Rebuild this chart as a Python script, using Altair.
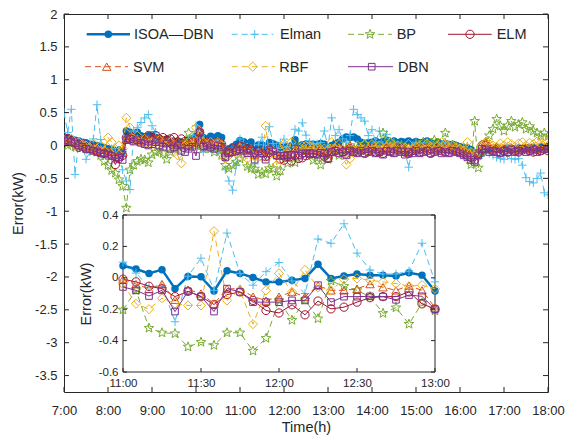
import altair as alt
import numpy as np
import pandas as pd

FONT = "Liberation Sans"
INK = "#262626"

# ---------------- data ----------------
# time stamps in minutes after midnight, every 5 min from 7:00 to 18:00
times = list(range(420, 1081, 5))

isoa_dbn = [
    0.10, 0.12, 0.10, 0.08, 0.07, 0.05, 0.04, 0.02, 0.01, 0.00, -0.02, -0.03,
    -0.05, -0.06, -0.08, -0.07, -0.09, 0.22, 0.20, 0.18, 0.20, 0.15, 0.13, 0.15,
    0.16, 0.12, 0.10, 0.08, 0.10, 0.06, 0.05, 0.07, 0.05, 0.04, 0.08, 0.10,
    0.15, 0.32, 0.12, 0.10, 0.14, 0.12, 0.15, 0.12, -0.08, -0.05, -0.02, 0.02,
    0.077, 0.056, 0.028, 0.052, -0.069, 0.009, 0.006, -0.084, 0.045, 0.028, 0.002, -0.026,
    -0.026, -0.015, -0.004, 0.086, -0.004, 0.011, 0.024, 0.017, 0.017, 0.011, 0.032, 0.017,
    -0.084, 0.00, 0.03, 0.05, 0.10, 0.13, 0.12, 0.13, 0.10, 0.05, 0.03, 0.04,
    0.05, 0.07, 0.04, 0.06, 0.08, 0.05, 0.07, 0.04, 0.06, 0.05, 0.07, 0.04,
    0.06, 0.04, 0.05, 0.07, 0.04, 0.03, 0.05, 0.02, 0.03, 0.01, 0.02, 0.00,
    -0.02, -0.03, -0.04, -0.06, -0.12, -0.15, -0.12, -0.05, -0.04, -0.05, -0.04, -0.06,
    -0.05, -0.04, -0.06, -0.05, -0.04, -0.05, -0.03, -0.04, -0.03, -0.05, -0.02, -0.03,
    -0.01,
]

elman = [
    0.50, 0.20, 0.55, -0.44, 0.05, 0.00, -0.21, -0.10, 0.10, 0.62, 0.09, -0.05,
    -0.10, -0.05, -0.12, -0.20, -0.37, -0.54, -0.67, 0.22, 0.27, 0.35, 0.42, 0.47,
    0.30, 0.20, 0.10, 0.05, 0.00, 0.10, 0.05, -0.10, 0.00, 0.05, -0.05, 0.10,
    0.30, 0.05, -0.10, 0.00, -0.05, 0.00, -0.08, -0.10, -0.37, -0.54, -0.68, -0.30,
    0.10, 0.03, -0.06, -0.05, -0.28, 0.01, 0.125, -0.08, 0.285, 0.028, -0.047, 0.039,
    0.097, -0.02, -0.10, 0.247, 0.22, 0.344, 0.157, 0.05, 0.024, 0.024, 0.043, 0.22,
    -0.026, 0.42, 0.15, 0.24, 0.10, 0.05, 0.15, 0.55, 0.47, 0.42, 0.37, 0.15,
    0.24, 0.05, 0.22, 0.00, 0.17, 0.00, 0.05, -0.05, 0.00, -0.10, -0.33, -0.05,
    0.05, 0.00, -0.05, 0.05, 0.00, -0.02, -0.10, 0.00, 0.05, 0.02, -0.05, 0.00,
    -0.05, -0.02, -0.08, -0.10, -0.15, -0.20, -0.10, -0.05, -0.12, -0.15, -0.18, -0.20,
    -0.21, -0.15, -0.20, -0.21, -0.20, -0.30, -0.49, -0.55, -0.57, -0.50, -0.42, -0.72,
    -0.75,
]

bp = [
    0.05, 0.00, 0.03, -0.02, 0.00, -0.03, -0.05, -0.05, -0.08, -0.10, -0.15, -0.24,
    -0.30, -0.38, -0.42, -0.52, -0.62, -0.95, -0.37, -0.30, -0.24, -0.21, -0.22, -0.26,
    -0.14, -0.10, -0.09, -0.12, -0.21, -0.10, -0.05, -0.02, 0.00, 0.05, 0.19, 0.05,
    0.00, 0.10, -0.05, 0.00, -0.05, -0.10, -0.05, -0.15, -0.30, -0.35, -0.30, -0.25,
    -0.204, -0.08, -0.32, -0.35, -0.355, -0.44, -0.41, -0.43, -0.35, -0.35, -0.466, -0.385,
    -0.144, -0.27, -0.14, -0.26, -0.02, -0.054, -0.08, -0.12, -0.226, -0.19, -0.295, -0.16,
    -0.21, -0.10, -0.05, -0.15, -0.08, -0.05, 0.00, -0.10, -0.05, -0.08, 0.02, -0.05,
    -0.05, 0.00, -0.10, 0.19, 0.00, 0.05, -0.02, -0.05, 0.00, -0.08, -0.12, -0.05,
    0.00, -0.05, 0.05, 0.00, -0.03, 0.08, 0.00, -0.05, 0.19, -0.05, 0.00, -0.03,
    -0.05, -0.08, -0.10, -0.29, 0.37, -0.34, -0.10, 0.05, 0.15, 0.25, 0.40, 0.30,
    0.22, 0.30, 0.37, 0.28, 0.32, 0.35, 0.25, 0.29, 0.22, 0.19, 0.15, 0.19,
    0.14,
]

elm = [
    0.12, 0.10, 0.08, 0.05, -0.03, 0.02, -0.05, -0.02, -0.05, -0.08, -0.10, -0.12,
    -0.10, -0.15, -0.29, -0.20, -0.15, 0.12, 0.15, 0.10, 0.12, 0.08, 0.10, 0.15,
    0.12, 0.15, 0.10, 0.12, 0.08, 0.10, 0.12, 0.05, 0.10, 0.06, 0.00, 0.05,
    0.05, 0.20, 0.00, 0.05, 0.02, 0.00, 0.05, 0.02, -0.15, -0.10, -0.05, -0.08,
    -0.009, -0.026, -0.054, -0.069, -0.12, -0.086, -0.12, -0.17, -0.107, -0.09, -0.144, -0.208,
    -0.224, -0.172, -0.236, -0.148, -0.198, -0.187, -0.155, -0.127, -0.12, -0.12, -0.09, -0.166,
    -0.198, -0.10, -0.08, -0.05, -0.10, -0.12, -0.05, -0.08, -0.10, -0.06, -0.12, -0.08,
    -0.05, -0.10, -0.08, -0.12, -0.05, -0.08, -0.10, -0.06, -0.04, -0.10, -0.12, -0.08,
    -0.06, -0.10, -0.05, -0.08, -0.12, -0.06, -0.04, -0.08, -0.05, -0.10, -0.06, -0.08,
    -0.10, -0.12, -0.15, -0.18, -0.22, -0.12, 0.00, 0.00, -0.05, -0.08, -0.05, -0.10,
    -0.08, -0.10, -0.06, -0.08, -0.10, -0.07, -0.05, -0.08, -0.10, -0.06, -0.08, -0.05,
    -0.08,
]

svm = [
    0.10, 0.08, 0.06, 0.05, 0.00, 0.02, -0.02, -0.05, -0.05, -0.08, -0.06, -0.10,
    -0.08, -0.12, -0.15, -0.12, -0.10, 0.10, 0.12, 0.08, 0.10, 0.06, 0.08, 0.10,
    0.08, 0.10, 0.06, 0.08, 0.05, 0.08, 0.04, 0.06, 0.02, 0.05, 0.03, 0.06,
    0.08, 0.25, 0.05, 0.06, 0.03, 0.05, 0.02, 0.04, -0.10, -0.08, -0.04, -0.06,
    -0.01, -0.04, -0.07, -0.04, -0.14, -0.075, -0.10, -0.165, -0.07, -0.07, -0.12, -0.145,
    -0.12, -0.09, -0.12, -0.05, -0.08, -0.08, -0.07, -0.04, -0.06, -0.08, -0.05, -0.08,
    -0.19, -0.05, -0.04, -0.02, -0.05, -0.06, 0.00, -0.04, -0.06, -0.02, -0.05, -0.03,
    -0.04, -0.02, -0.05, -0.06, -0.02, -0.04, -0.05, -0.03, -0.06, -0.04, -0.02, -0.05,
    -0.03, -0.06, -0.04, -0.02, -0.05, -0.07, -0.03, -0.05, -0.04, -0.06, -0.03, -0.05,
    -0.06, -0.08, -0.10, -0.12, -0.16, -0.10, 0.02, 0.04, 0.00, -0.04, -0.02, -0.05,
    -0.04, -0.06, -0.03, -0.05, -0.06, -0.04, -0.05, -0.03, -0.06, -0.04, -0.05, -0.03,
    -0.04,
]

rbf = [
    0.08, 0.05, 0.10, 0.00, 0.05, 0.02, 0.00, -0.03, 0.03, -0.05, 0.00, -0.08,
    0.12, 0.05, -0.05, 0.00, -0.05, 0.42, 0.27, 0.10, 0.15, 0.05, 0.10, 0.02,
    0.05, 0.00, 0.08, 0.02, -0.05, 0.05, -0.10, -0.15, -0.27, 0.00, 0.05, 0.00,
    0.27, 0.15, 0.05, 0.00, 0.05, -0.02, 0.05, 0.00, -0.20, -0.15, -0.10, -0.12,
    -0.04, -0.165, -0.20, -0.13, -0.165, -0.176, -0.176, 0.297, -0.144, -0.08, -0.295, -0.08,
    0.028, -0.09, 0.05, -0.062, -0.08, -0.009, -0.004, -0.015, -0.026, -0.037, -0.054, -0.047,
    -0.07, 0.05, -0.05, 0.02, -0.15, -0.29, -0.20, -0.08, 0.00, -0.05, 0.02, -0.10,
    0.02, -0.05, 0.00, -0.08, -0.02, 0.05, -0.05, 0.00, -0.10, -0.03, 0.02, -0.05,
    -0.02, 0.00, -0.05, 0.03, -0.02, -0.06, 0.00, 0.05, 0.02, -0.04, 0.00, -0.03,
    -0.05, -0.08, 0.05, -0.10, -0.15, -0.08, 0.00, 0.05, 0.02, 0.00, -0.02, 0.03,
    0.00, 0.05, 0.02, -0.02, 0.03, 0.05, 0.00, 0.04, 0.02, 0.06, 0.03, 0.08,
    0.06,
]

dbn = [
    0.08, 0.06, 0.05, 0.03, 0.00, -0.02, -0.05, -0.06, -0.08, -0.10, -0.12, -0.12,
    -0.14, -0.16, -0.20, -0.18, -0.22, 0.08, 0.10, 0.06, 0.08, 0.04, 0.02, 0.00,
    0.02, 0.05, 0.00, -0.02, 0.03, -0.05, -0.03, 0.00, -0.08, -0.10, -0.05, -0.02,
    -0.16, 0.20, -0.02, 0.00, -0.03, -0.05, 0.00, -0.02, -0.18, -0.12, -0.10, -0.08,
    -0.058, -0.08, -0.116, -0.08, -0.215, -0.086, -0.118, -0.215, -0.069, -0.09, -0.155, -0.155,
    -0.155, -0.144, -0.144, -0.047, -0.155, -0.12, -0.12, -0.118, -0.12, -0.14, -0.11, -0.118,
    -0.20, -0.10, -0.08, -0.12, -0.10, -0.15, -0.08, -0.10, -0.12, -0.08, -0.12, -0.10,
    -0.08, -0.12, -0.10, -0.14, -0.08, -0.10, -0.12, -0.08, -0.10, -0.14, -0.10, -0.12,
    -0.08, -0.12, -0.10, -0.08, -0.12, -0.10, -0.08, -0.12, -0.10, -0.12, -0.08, -0.10,
    -0.12, -0.15, -0.18, -0.22, -0.25, -0.15, -0.05, -0.06, -0.10, -0.08, -0.10, -0.12,
    -0.08, -0.10, -0.06, -0.10, -0.08, -0.05, -0.10, -0.08, -0.06, -0.10, -0.08, -0.05,
    -0.06,
]

series_names = ["ISOA—DBN", "Elman", "BP", "ELM", "SVM", "RBF", "DBN"]
series_values = [isoa_dbn, elman, bp, elm, svm, rbf, dbn]

# axis ticks
main_x_ticks = [420, 480, 540, 600, 660, 720, 780, 840, 900, 960, 1020, 1080]
main_y_ticks = [2, 1.5, 1, 0.5, 0, -0.5, -1, -1.5, -2, -2.5, -3, -3.5]
inset_x_ticks = [660, 690, 720, 750, 780]
inset_y_ticks = [0.4, 0.2, 0, -0.2, -0.4, -0.6]
inset_start, inset_end = 660, 780

# ---------------- styles ----------------
def star_path(r_in=0.42):
    pts = []
    for k in range(10):
        r = 1.0 if k % 2 == 0 else r_in
        a = -np.pi / 2 + k * np.pi / 5
        pts.append((r * np.cos(a), r * np.sin(a)))
    return "M" + "L".join(f"{x:.3f},{y:.3f}" for x, y in pts) + "Z"

STYLE = {
    "ISOA—DBN": dict(color="#0072BD", dash=None, width=2.5, shape="circle", filled=True, size=56),
    "Elman": dict(color="#4DBEEE", dash=[6, 4], width=1, shape="M-1,0L1,0M0,-1L0,1", filled=False, size=72),
    "BP": dict(color="#77AC30", dash=[6, 4], width=1, shape=star_path(), filled=False, size=100),
    "ELM": dict(color="#A2142F", dash=None, width=1, shape="circle", filled=False, size=68),
    "SVM": dict(color="#D95319", dash=[6, 4], width=1, shape="triangle-up", filled=False, size=72),
    "RBF": dict(color="#EDB120", dash=[6, 4], width=1, shape="diamond", filled=False, size=85),
    "DBN": dict(color="#7E2F8E", dash=None, width=1, shape="square", filled=False, size=44),
}

W, H = 484, 378
IN_L, IN_R, IN_T, IN_B = 59, 371, 201, 358

time_label = "floor(datum.value/60) + ':' + (datum.value%60 < 10 ? '0' : '') + (datum.value%60)"

X_MAIN = alt.X("t:Q",
               scale=alt.Scale(domain=[420, 1080], nice=False, zero=False),
               axis=alt.Axis(values=main_x_ticks, labelExpr=time_label, title="Time(h)",
                             ticks=False, domain=False, grid=False, labelPadding=12,
                             labelOverlap=False, labelFlush=False,
                             titlePadding=3, labelFontSize=13, titleFontSize=14.5,
                             labelFont=FONT, titleFont=FONT, labelColor=INK,
                             titleColor=INK, titleFontWeight="normal"))
Y_MAIN = alt.Y("v:Q",
               scale=alt.Scale(domain=[-3.75, 2], nice=False, zero=False),
               axis=alt.Axis(values=main_y_ticks, labelExpr="'' + datum.value",
                             title="Error(kW)", ticks=False, domain=False, grid=False,
                             labelOverlap=False, labelFlush=False,
                             labelPadding=7, titlePadding=9, labelFontSize=13,
                             titleFontSize=14.5, labelFont=FONT, titleFont=FONT,
                             labelColor=INK, titleColor=INK, titleFontWeight="normal"))
X_IN = alt.X("t:Q",
             scale=alt.Scale(domain=[inset_start, inset_end], nice=False, zero=False,
                             range=[IN_L, IN_R]),
             axis=alt.Axis(orient="bottom", offset=-(H - IN_B), values=inset_x_ticks,
                           labelExpr=time_label, title=None, ticks=False, domain=False,
                           labelOverlap=False, labelFlush=False,
                           grid=False, labelPadding=5, labelFontSize=11.5, labelFont=FONT,
                           labelColor=INK))
Y_IN = alt.Y("v:Q",
             scale=alt.Scale(domain=[-0.6, 0.4], nice=False, zero=False,
                             range=[IN_B, IN_T]),
             axis=alt.Axis(orient="left", offset=-IN_L, values=inset_y_ticks,
                           labelExpr="'' + datum.value", title="Error(kW)", ticks=False,
                           labelOverlap=False, labelFlush=False,
                           domain=False, grid=False, labelPadding=5, titlePadding=5,
                           labelFontSize=11.5, titleFontSize=14.5, labelFont=FONT,
                           titleFont=FONT, labelColor=INK, titleColor=INK,
                           titleFontWeight="normal"))


def series_layers(name, vals, X, Y, tmin=None, tmax=None):
    st = STYLE[name]
    df = pd.DataFrame({"t": times, "v": vals})
    if tmin is not None:
        df = df[(df.t >= tmin) & (df.t <= tmax)]
    line_kw = dict(color=st["color"], strokeWidth=st["width"], clip=True)
    if st["dash"] is not None:
        line_kw["strokeDash"] = st["dash"]
    line = alt.Chart(df).mark_line(**line_kw).encode(x=X, y=Y)
    pt_kw = dict(shape=st["shape"], size=st["size"], filled=st["filled"],
                 strokeWidth=1, opacity=1, clip=True, color=st["color"])
    if not st["filled"]:
        pt_kw["stroke"] = st["color"]
    pts = alt.Chart(df).mark_point(**pt_kw).encode(x=X, y=Y)
    return [line, pts]


# ---------------- main panel ----------------
main_layers = []
for n, v in zip(series_names, series_values):
    main_layers += series_layers(n, v, X_MAIN, Y_MAIN)

xt = pd.DataFrame({"t": main_x_ticks})
yt = pd.DataFrame({"v": main_y_ticks})
main_layers += [
    alt.Chart(xt).mark_rule(color=INK).encode(x=X_MAIN, y=alt.value(H), y2=alt.value(H - 5)),
    alt.Chart(xt).mark_rule(color=INK).encode(x=X_MAIN, y=alt.value(0), y2=alt.value(5)),
    alt.Chart(yt).mark_rule(color=INK).encode(y=Y_MAIN, x=alt.value(0), x2=alt.value(5)),
    alt.Chart(yt).mark_rule(color=INK).encode(y=Y_MAIN, x=alt.value(W), x2=alt.value(W - 5)),
]

# legend (manual, MATLAB style, 4 columns x 2 rows)
legend_layout = {
    "ISOA—DBN": (20.3, 22.7, 66.0, 44.3, 70.0),
    "Elman": (20.3, 167.7, 209.3, 190.7, 216.0),
    "BP": (20.3, 284.0, 328.0, 306.0, 332.7),
    "ELM": (20.3, 384.0, 427.7, 406.0, 432.7),
    "SVM": (52.7, 21.0, 64.0, 42.7, 69.0),
    "RBF": (52.7, 167.7, 211.0, 188.7, 215.3),
    "DBN": (52.7, 284.0, 329.0, 307.7, 334.0),
}
for n in series_names:
    st = STYLE[n]
    ly, lx1, lx2, mx, tx = legend_layout[n]
    d = pd.DataFrame({"name": [n]})
    rule_kw = dict(color=st["color"], strokeWidth=st["width"])
    if st["dash"] is not None:
        rule_kw["strokeDash"] = st["dash"]
    main_layers.append(alt.Chart(d).mark_rule(**rule_kw).encode(
        x=alt.value(lx1), x2=alt.value(lx2), y=alt.value(ly)))
    pt_kw = dict(shape=st["shape"], size=st["size"], filled=st["filled"], strokeWidth=1,
                 opacity=1, color=st["color"])
    if not st["filled"]:
        pt_kw["stroke"] = st["color"]
    main_layers.append(alt.Chart(d).mark_point(**pt_kw).encode(
        x=alt.value(mx), y=alt.value(ly)))
    main_layers.append(alt.Chart(d).mark_text(
        align="left", baseline="middle", font=FONT, fontSize=14.5, color=INK).encode(
        x=alt.value(tx), y=alt.value(ly + 1), text="name:N"))

main = alt.layer(*main_layers)

# ---------------- inset panel ----------------
frame = pd.DataFrame({"t": [inset_start], "t2": [inset_end], "v": [0.4], "v2": [-0.6]})
inset_layers = [
    alt.Chart(frame).mark_rect(fill="white", stroke=INK, strokeWidth=1).encode(
        x=X_IN, x2="t2:Q", y=Y_IN, y2="v2:Q")
]
for n, v in zip(series_names, series_values):
    inset_layers += series_layers(n, v, X_IN, Y_IN, inset_start, inset_end)

ixt = pd.DataFrame({"t": inset_x_ticks})
iyt = pd.DataFrame({"v": inset_y_ticks})
inset_layers += [
    alt.Chart(ixt).mark_rule(color=INK).encode(x=X_IN, y=alt.value(IN_B), y2=alt.value(IN_B - 4)),
    alt.Chart(ixt).mark_rule(color=INK).encode(x=X_IN, y=alt.value(IN_T), y2=alt.value(IN_T + 4)),
    alt.Chart(iyt).mark_rule(color=INK).encode(y=Y_IN, x=alt.value(IN_L), x2=alt.value(IN_L + 4)),
    alt.Chart(iyt).mark_rule(color=INK).encode(y=Y_IN, x=alt.value(IN_R), x2=alt.value(IN_R - 4)),
]
inset = alt.layer(*inset_layers)

chart = (
    alt.layer(main, inset)
    .resolve_scale(x="independent", y="independent")
    .resolve_axis(x="independent", y="independent")
    .properties(width=W, height=H,
                padding={"left": 64, "top": 14, "right": 19, "bottom": 47},
                autosize=alt.AutoSizeParams(type="none"),
                background="white")
    .configure_view(stroke=INK, strokeWidth=1)
)

chart.save("out.html", embed_options={"renderer": "svg", "actions": False})
